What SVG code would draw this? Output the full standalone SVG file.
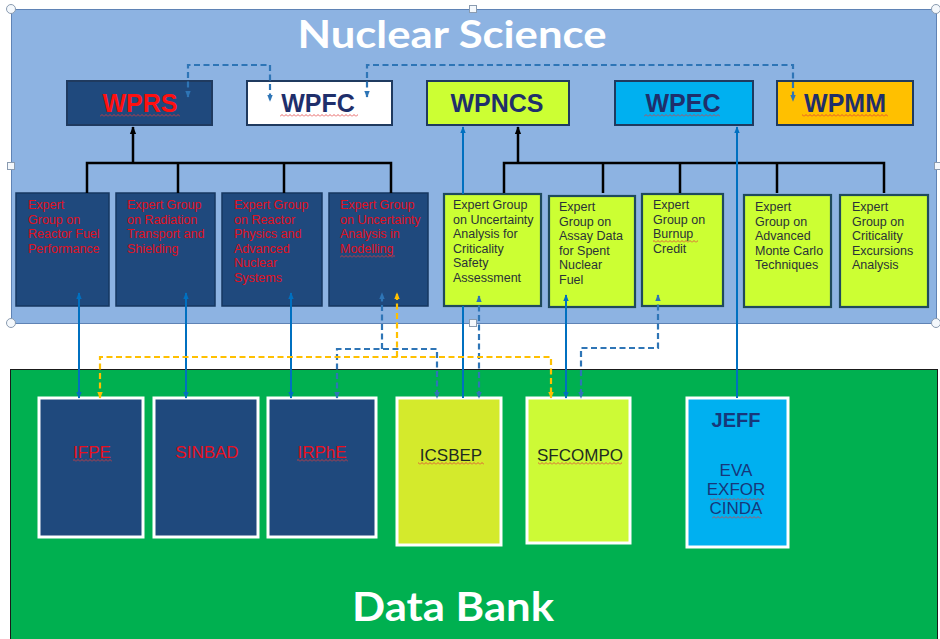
<svg xmlns="http://www.w3.org/2000/svg" width="940" height="639" viewBox="0 0 940 639">
  <style>
    .panel-ns { fill: #8db3e2; stroke: #5f83b5; stroke-width: 1; }
    .panel-db { fill: #00b050; stroke: #1a1a1a; stroke-width: 1; }
    .title { font-family: Lato, "Open Sans", sans-serif; font-weight: bold; fill: #ffffff; text-anchor: middle; }
    .wp { stroke: #1f3a5f; stroke-width: 2; }
    .wp-label { font-family: "Liberation Sans", Arial, sans-serif; font-weight: bold; font-size: 25px; text-anchor: middle; fill: #1f2f6b; }
    .eg-dark { fill: #1f497d; stroke: #163760; stroke-width: 1.5; }
    .eg-lime { fill: #ccff33; stroke: #1f4a5c; stroke-width: 2.2; }
    .eg-text-red { font-family: "Liberation Sans", Arial, sans-serif; font-size: 12.5px; fill: #e0101e; }
    .eg-text-dark { font-family: "Liberation Sans", Arial, sans-serif; font-size: 12.5px; fill: #2a3238; }
    .db-dark { fill: #1f497d; stroke: #ffffff; stroke-width: 3; }
    .db-lime { stroke: #ffffff; stroke-width: 3; }
    .db-red { font-family: "Liberation Sans", Arial, sans-serif; font-size: 17px; fill: #e8101e; text-anchor: middle; }
    .db-darktext { font-family: "Liberation Sans", Arial, sans-serif; font-size: 17px; fill: #1e2a22; text-anchor: middle; }
    .db-navy { font-family: "Liberation Sans", Arial, sans-serif; fill: #17377a; text-anchor: middle; }
    .c-black { fill: none; stroke: #000000; stroke-width: 2.5; }
    .c-blue { fill: none; stroke: #0070c0; stroke-width: 2; }
    .c-blue-dash { fill: none; stroke: #2e75b6; stroke-width: 2.2; stroke-dasharray: 6 3.5; }
    .c-yellow-dash { fill: none; stroke: #ffc000; stroke-width: 2.2; stroke-dasharray: 6 3.5; }
    .wavy { fill: url(#wavy); }
    .handle { fill: #f4f8fc; stroke: #8a9bb0; stroke-width: 1; }
  </style>
  <defs>
    <pattern id="wavy" patternUnits="userSpaceOnUse" width="4" height="3">
      <path d="M0 2.5 L2 0.5 L4 2.5" fill="none" stroke="#e03a3a" stroke-width="0.8"/>
    </pattern>
    <marker id="ah-black" viewBox="0 0 10 10" refX="9" refY="5" markerUnits="userSpaceOnUse" markerWidth="8" markerHeight="8" orient="auto-start-reverse">
      <path d="M0 1 L10 5 L0 9 z" fill="#000000"/>
    </marker>
    <marker id="ah-blue" viewBox="0 0 10 10" refX="9" refY="5" markerUnits="userSpaceOnUse" markerWidth="7" markerHeight="7" orient="auto-start-reverse">
      <path d="M0 1 L10 5 L0 9 z" fill="#0070c0"/>
    </marker>
    <marker id="ah-bluedash" viewBox="0 0 10 10" refX="9" refY="5" markerUnits="userSpaceOnUse" markerWidth="7" markerHeight="7" orient="auto-start-reverse">
      <path d="M0 1 L10 5 L0 9 z" fill="#2e75b6"/>
    </marker>
    <marker id="ah-yellow" viewBox="0 0 10 10" refX="9" refY="5" markerUnits="userSpaceOnUse" markerWidth="7" markerHeight="7" orient="auto-start-reverse">
      <path d="M0 1 L10 5 L0 9 z" fill="#ffc000"/>
    </marker>
  </defs>

  <rect x="0" y="0" width="940" height="639" fill="#ffffff"/>

  <!-- Nuclear Science panel -->
  <g id="nuclear-science">
    <rect class="panel-ns" x="11.5" y="9.5" width="925" height="314"/>
    <text class="title" x="452" y="48" font-size="38" textLength="309" lengthAdjust="spacingAndGlyphs">Nuclear Science</text>
  </g>

  <!-- Data Bank panel -->
  <g id="data-bank">
    <rect class="panel-db" x="10.5" y="369.5" width="927" height="275"/>
    <text class="title" x="453" y="621" font-size="40" textLength="202" lengthAdjust="spacingAndGlyphs">Data Bank</text>
  </g>

  <!-- Working parties -->
  <g id="wprs">
    <rect class="wp" x="67" y="81" width="145" height="44" fill="#1f497d" stroke="#1f497d"/>
    <text class="wp-label" x="140" y="112" style="fill:#ff1010">WPRS</text>
    <rect class="wavy" x="100" y="114" width="80" height="3"/>
  </g>
  <g id="wpfc">
    <rect class="wp" x="247" y="81" width="145" height="44" fill="#ffffff"/>
    <text class="wp-label" x="318" y="112">WPFC</text>
    <rect class="wavy" x="280" y="114" width="78" height="3"/>
  </g>
  <g id="wpncs">
    <rect class="wp" x="427" y="81" width="142" height="44" fill="#ccff33"/>
    <text class="wp-label" x="497" y="112">WPNCS</text>
  </g>
  <g id="wpec">
    <rect class="wp" x="615" y="81" width="138" height="44" fill="#00b0f0"/>
    <text class="wp-label" x="683" y="112">WPEC</text>
    <rect class="wavy" x="644" y="114" width="76" height="3"/>
  </g>
  <g id="wpmm">
    <rect class="wp" x="777" y="81" width="136" height="44" fill="#ffc000"/>
    <text class="wp-label" x="845" y="112">WPMM</text>
    <rect class="wavy" x="802" y="114" width="86" height="3"/>
  </g>

  <!-- Expert groups under WPRS -->
  <g id="eg-fuel">
    <rect class="eg-dark" x="16" y="193" width="93" height="113"/>
    <text class="eg-text-red" x="28" y="209">
      <tspan x="28" dy="0">Expert</tspan>
      <tspan x="28" dy="14.6">Group on</tspan>
      <tspan x="28" dy="14.6">Reactor Fuel</tspan>
      <tspan x="28" dy="14.6">Performance</tspan>
    </text>
  </g>
  <g id="eg-radiation">
    <rect class="eg-dark" x="116" y="193" width="99" height="113"/>
    <text class="eg-text-red" x="127" y="209">
      <tspan x="127" dy="0">Expert Group</tspan>
      <tspan x="127" dy="14.6">on Radiation</tspan>
      <tspan x="127" dy="14.6">Transport and</tspan>
      <tspan x="127" dy="14.6">Shielding</tspan>
    </text>
  </g>
  <g id="eg-physics">
    <rect class="eg-dark" x="222" y="193" width="100" height="113"/>
    <text class="eg-text-red" x="234" y="209">
      <tspan x="234" dy="0">Expert Group</tspan>
      <tspan x="234" dy="14.6">on Reactor</tspan>
      <tspan x="234" dy="14.6">Physics and</tspan>
      <tspan x="234" dy="14.6">Advanced</tspan>
      <tspan x="234" dy="14.6">Nuclear</tspan>
      <tspan x="234" dy="14.6">Systems</tspan>
    </text>
  </g>
  <g id="eg-uncertainty-modelling">
    <rect class="eg-dark" x="329" y="193" width="99" height="113"/>
    <text class="eg-text-red" x="340" y="209">
      <tspan x="340" dy="0">Expert Group</tspan>
      <tspan x="340" dy="14.6">on Uncertainty</tspan>
      <tspan x="340" dy="14.6">Analysis in</tspan>
      <tspan x="340" dy="14.6">Modelling</tspan>
    </text>
    <rect class="wavy" x="340" y="255" width="55" height="3"/>
  </g>

  <!-- Expert groups under WPNCS -->
  <g id="eg-uncertainty-criticality">
    <rect class="eg-lime" x="444" y="194" width="97" height="112"/>
    <text class="eg-text-dark" x="453" y="209">
      <tspan x="453" dy="0">Expert Group</tspan>
      <tspan x="453" dy="14.6">on Uncertainty</tspan>
      <tspan x="453" dy="14.6">Analysis for</tspan>
      <tspan x="453" dy="14.6">Criticality</tspan>
      <tspan x="453" dy="14.6">Safety</tspan>
      <tspan x="453" dy="14.6">Assessment</tspan>
    </text>
  </g>
  <g id="eg-assay">
    <rect class="eg-lime" x="549" y="196" width="86" height="111"/>
    <text class="eg-text-dark" x="559" y="211">
      <tspan x="559" dy="0">Expert</tspan>
      <tspan x="559" dy="14.6">Group on</tspan>
      <tspan x="559" dy="14.6">Assay Data</tspan>
      <tspan x="559" dy="14.6">for Spent</tspan>
      <tspan x="559" dy="14.6">Nuclear</tspan>
      <tspan x="559" dy="14.6">Fuel</tspan>
    </text>
  </g>
  <g id="eg-burnup">
    <rect class="eg-lime" x="642" y="194" width="81" height="112"/>
    <text class="eg-text-dark" x="653" y="209">
      <tspan x="653" dy="0">Expert</tspan>
      <tspan x="653" dy="14.6">Group on</tspan>
      <tspan x="653" dy="14.6">Burnup</tspan>
      <tspan x="653" dy="14.6">Credit</tspan>
    </text>
    <rect class="wavy" x="653" y="240" width="45" height="3"/>
  </g>
  <g id="eg-monte-carlo">
    <rect class="eg-lime" x="744" y="195" width="87" height="112"/>
    <text class="eg-text-dark" x="755" y="211">
      <tspan x="755" dy="0">Expert</tspan>
      <tspan x="755" dy="14.6">Group on</tspan>
      <tspan x="755" dy="14.6">Advanced</tspan>
      <tspan x="755" dy="14.6">Monte Carlo</tspan>
      <tspan x="755" dy="14.6">Techniques</tspan>
    </text>
  </g>
  <g id="eg-excursions">
    <rect class="eg-lime" x="840" y="195" width="88" height="112"/>
    <text class="eg-text-dark" x="852" y="211">
      <tspan x="852" dy="0">Expert</tspan>
      <tspan x="852" dy="14.6">Group on</tspan>
      <tspan x="852" dy="14.6">Criticality</tspan>
      <tspan x="852" dy="14.6">Excursions</tspan>
      <tspan x="852" dy="14.6">Analysis</tspan>
    </text>
  </g>

  <!-- Databases -->
  <g id="ifpe">
    <rect class="db-dark" x="39" y="398" width="104" height="139"/>
    <text class="db-red" x="92" y="458">IFPE</text>
    <rect class="wavy" x="73" y="459" width="39" height="3"/>
  </g>
  <g id="sinbad">
    <rect class="db-dark" x="154" y="398" width="104" height="139"/>
    <text class="db-red" x="207" y="458">SINBAD</text>
  </g>
  <g id="irphe">
    <rect class="db-dark" x="268" y="398" width="108" height="139"/>
    <text class="db-red" x="322" y="458">IRPhE</text>
    <rect class="wavy" x="297" y="459" width="51" height="3"/>
  </g>
  <g id="icsbep">
    <rect class="db-lime" x="397" y="398" width="104" height="147" fill="#d4ea2c"/>
    <text class="db-darktext" x="451" y="461">ICSBEP</text>
    <rect class="wavy" x="418" y="462" width="66" height="3"/>
  </g>
  <g id="sfcompo">
    <rect class="db-lime" x="527" y="398" width="103" height="145" fill="#cdfa36"/>
    <text class="db-darktext" x="580" y="461">SFCOMPO</text>
    <rect class="wavy" x="538" y="462" width="84" height="3"/>
  </g>
  <g id="jeff">
    <rect class="db-lime" x="687" y="398" width="101" height="149" fill="#00b0f0" stroke="#d8f0ff"/>
    <text class="db-navy" x="736" y="427" font-size="20" font-weight="bold">JEFF</text>
    <text class="db-navy" x="736" y="476" font-size="17">EVA</text>
    <text class="db-navy" x="736" y="495" font-size="17">EXFOR</text>
    <text class="db-navy" x="736" y="514" font-size="17">CINDA</text>
    <rect class="wavy" x="710" y="498" width="53" height="3"/>
    <rect class="wavy" x="712" y="516" width="49" height="3"/>
  </g>

  <!-- Connectors -->
  <g id="connectors">
    <!-- tree links to the working parties -->
    <path class="c-black" d="M133 163 V127" marker-end="url(#ah-black)"/>
    <path class="c-black" d="M87 193 V163 H391 V193 M178 163 V193 M284 163 V193"/>
    <path class="c-black" d="M518 163 V127" marker-end="url(#ah-black)"/>
    <path class="c-black" d="M504 193 V163 H884 V193 M603 163 V193 M680 163 V193 M777 163 V193"/>

    <!-- links between working parties -->
    <path class="c-blue-dash" d="M188 97 V65 H270 V101" marker-start="url(#ah-bluedash)" marker-end="url(#ah-bluedash)"/>
    <path class="c-blue-dash" d="M367 97 V65 H793 V101" marker-start="url(#ah-bluedash)" marker-end="url(#ah-bluedash)"/>

    <!-- expert groups to databases -->
    <path class="c-blue" d="M79 293 V398" marker-start="url(#ah-blue)" marker-end="url(#ah-blue)"/>
    <path class="c-blue" d="M186 293 V398" marker-start="url(#ah-blue)" marker-end="url(#ah-blue)"/>
    <path class="c-blue" d="M291 293 V398" marker-start="url(#ah-blue)" marker-end="url(#ah-blue)"/>
    <path class="c-blue" d="M566 295 V398" marker-start="url(#ah-blue)" marker-end="url(#ah-blue)"/>
    <path class="c-blue" d="M463 194 V127" marker-end="url(#ah-blue)"/>
    <path class="c-blue" d="M463 306 V398"/>
    <path class="c-blue" d="M737 398 V127" marker-end="url(#ah-blue)"/>

    <path class="c-blue-dash" d="M382 349 V293" marker-end="url(#ah-bluedash)"/>
    <path class="c-blue-dash" d="M337 398 V349 H437 V398" marker-start="url(#ah-bluedash)" marker-end="url(#ah-bluedash)"/>
    <path class="c-blue-dash" d="M479 296 V398" marker-start="url(#ah-bluedash)" marker-end="url(#ah-bluedash)"/>
    <path class="c-blue-dash" d="M658 295 V348 H581 V398" marker-start="url(#ah-bluedash)" marker-end="url(#ah-bluedash)"/>

    <path class="c-yellow-dash" d="M397 357 V293" marker-end="url(#ah-yellow)"/>
    <path class="c-yellow-dash" d="M100 398 V357 H551 V398" marker-start="url(#ah-yellow)" marker-end="url(#ah-yellow)"/>
  </g>

  <!-- selection handles on the Nuclear Science panel -->
  <g id="handles">
    <circle class="handle" cx="11" cy="9" r="4.5"/>
    <rect class="handle" x="469.5" y="5.5" width="7" height="7"/>
    <circle class="handle" cx="936" cy="9" r="4.5"/>
    <rect class="handle" x="7.5" y="162.5" width="7" height="7"/>
    <rect class="handle" x="934.5" y="162.5" width="7" height="7"/>
    <circle class="handle" cx="11" cy="323" r="4.5"/>
    <rect class="handle" x="469.5" y="319.5" width="7" height="7"/>
    <circle class="handle" cx="936" cy="323" r="4.5"/>
  </g>
</svg>
